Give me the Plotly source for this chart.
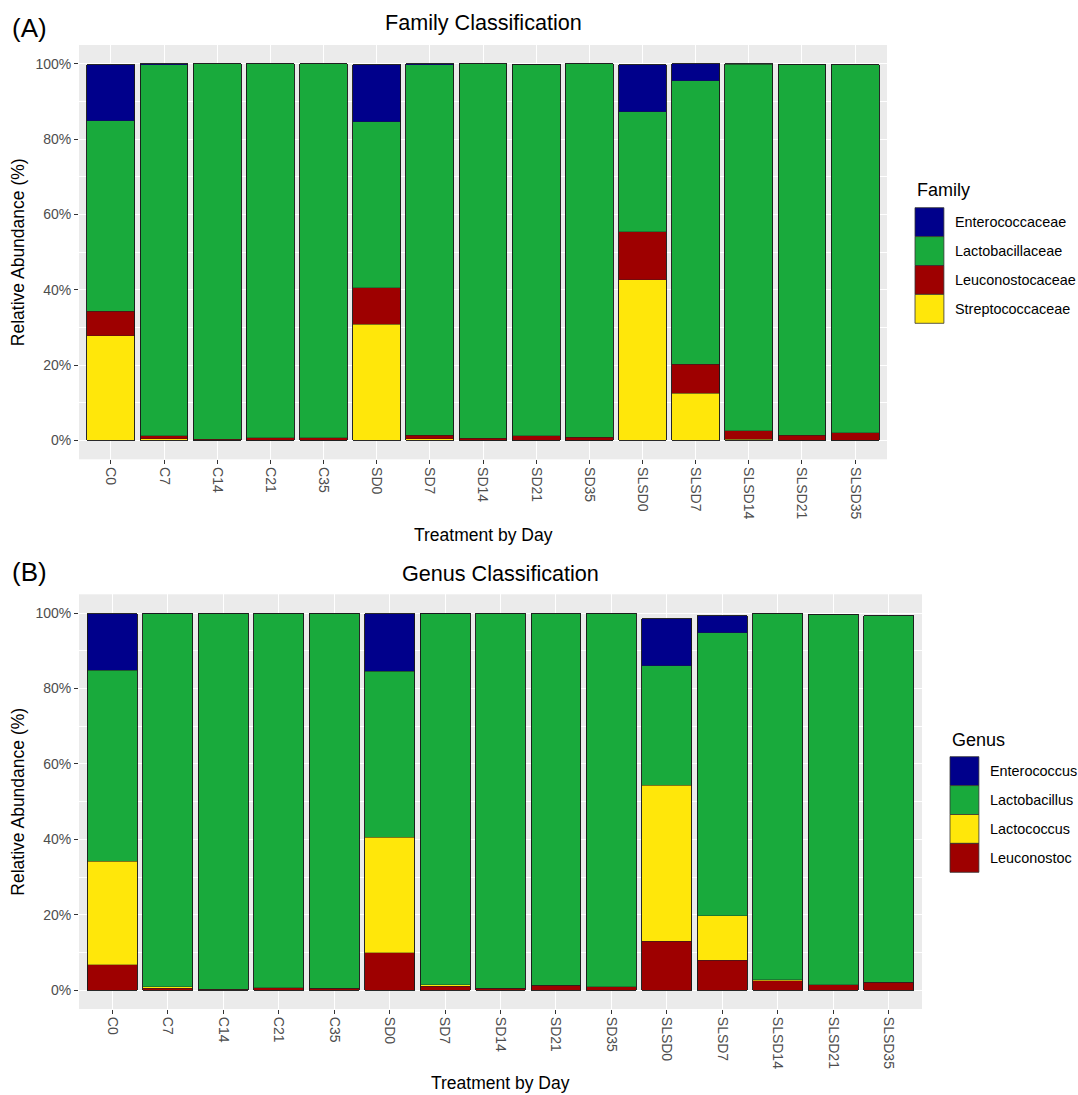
import plotly.graph_objects as go

W, H = 1078, 1095

categories = ["C0", "C7", "C14", "C21", "C35", "SD0", "SD7", "SD14", "SD21", "SD35",
              "SLSD0", "SLSD7", "SLSD14", "SLSD21", "SLSD35"]

# Family classification (%)
fam_strep = [27.8, 0.5, 0.0, 0.1, 0.1, 30.8, 0.5, 0.1, 0.1, 0.1, 42.7, 12.5, 0.3, 0.1, 0.1]
fam_leuc = [6.5, 0.7, 0.3, 0.6, 0.6, 9.8, 0.9, 0.5, 1.1, 0.8, 12.7, 7.8, 2.3, 1.3, 2.0]
fam_lacto = [50.6, 98.5, 99.7, 99.3, 99.3, 44.0, 98.4, 99.4, 98.7, 99.1, 31.9, 75.2, 97.3, 98.5, 97.7]
fam_entero = [14.9, 0.3, 0.0, 0.0, 0.0, 15.2, 0.2, 0.0, 0.0, 0.0, 12.4, 4.5, 0.1, 0.0, 0.0]

# Genus classification (%)
gen_leuco = [6.7, 0.5, 0.2, 0.6, 0.5, 9.9, 1.0, 0.5, 1.3, 0.9, 13.0, 7.9, 2.5, 1.4, 2.1]
gen_lactococ = [27.5, 0.4, 0.0, 0.0, 0.0, 30.7, 0.5, 0.0, 0.0, 0.0, 41.4, 11.9, 0.2, 0.0, 0.0]
gen_lactob = [50.7, 99.0, 99.8, 99.4, 99.5, 44.0, 98.4, 99.5, 98.5, 99.1, 31.6, 75.0, 97.3, 98.3, 97.2]
gen_entero = [14.9, 0.1, 0.0, 0.0, 0.0, 15.2, 0.1, 0.0, 0.0, 0.0, 12.5, 4.5, 0.0, 0.0, 0.0]

family_names = ["Enterococcaceae", "Lactobacillaceae", "Leuconostocaceae", "Streptococcaceae"]
genus_names = ["Enterococcus", "Lactobacillus", "Lactococcus", "Leuconostoc"]

y_tickvals = [0, 20, 40, 60, 80, 100]
y_ticktext = ["0%", "20%", "40%", "60%", "80%", "100%"]

BLUE = "#00008B"
GREEN = "#19AA3C"
RED = "#9E0000"
YELLOW = "#FFE70A"

FONT = "Liberation Sans, Arial, Helvetica, sans-serif"


def px(x):
    return x / W


def py(y):
    return 1 - y / H


fig = go.Figure()

# bottom-to-top stacking order
fam_series = [("Streptococcaceae", fam_strep, YELLOW),
              ("Leuconostocaceae", fam_leuc, RED),
              ("Lactobacillaceae", fam_lacto, GREEN),
              ("Enterococcaceae", fam_entero, BLUE)]
gen_series = [("Leuconostoc", gen_leuco, RED),
              ("Lactococcus", gen_lactococ, YELLOW),
              ("Lactobacillus", gen_lactob, GREEN),
              ("Enterococcus", gen_entero, BLUE)]

SEG_LINE = dict(color="#222222", width=0.35)
OUT_LINE = dict(color="#1a1a1a", width=0.9)

for name, vals, col in fam_series:
    fig.add_trace(go.Bar(x=categories, y=vals, name=name, xaxis="x", yaxis="y",
                         marker=dict(color=col, line=SEG_LINE), showlegend=False))
for name, vals, col in gen_series:
    fig.add_trace(go.Bar(x=categories, y=vals, name=name, xaxis="x2", yaxis="y2",
                         marker=dict(color=col, line=SEG_LINE), showlegend=False))

# bar outlines (total height of each stacked bar)
fam_total = [sum(v) for v in zip(fam_strep, fam_leuc, fam_lacto, fam_entero)]
gen_total = [sum(v) for v in zip(gen_leuco, gen_lactococ, gen_lactob, gen_entero)]
fig.add_trace(go.Bar(x=categories, y=fam_total, xaxis="x", yaxis="y3",
                     marker=dict(color="rgba(0,0,0,0)", line=OUT_LINE),
                     showlegend=False, hoverinfo="skip"))
fig.add_trace(go.Bar(x=categories, y=gen_total, xaxis="x2", yaxis="y4",
                     marker=dict(color="rgba(0,0,0,0)", line=OUT_LINE),
                     showlegend=False, hoverinfo="skip"))

xcommon = dict(type="category", categoryorder="array", categoryarray=categories,
               range=[-0.6, 14.6], tickangle=90, ticks="outside", ticklen=4,
               tickwidth=1.2, tickcolor="#333333",
               tickfont=dict(size=14, color="#4D4D4D", family=FONT),
               showgrid=True, gridcolor="white", gridwidth=1.3, zeroline=False,
               showline=False, automargin=False, fixedrange=True)
ycommon = dict(range=[-5, 105], tickvals=y_tickvals, ticktext=y_ticktext,
               ticks="outside", ticklen=4, tickwidth=1.2, tickcolor="#333333",
               tickfont=dict(size=14, color="#4D4D4D", family=FONT),
               showgrid=True, gridcolor="white", gridwidth=1.3, zeroline=False,
               showline=False, automargin=False, fixedrange=True,
               minor=dict(tickvals=[10, 30, 50, 70, 90], showgrid=True,
                          gridcolor="white", gridwidth=0.6, ticks=""))
yover = dict(range=[-5, 105], visible=False, showgrid=False, zeroline=False,
             fixedrange=True)

A_top, A_bot, A_left, A_right = 45, 459.3, 79, 887
B_top, B_bot, B_left, B_right = 594.3, 1009, 79, 922

fig.update_layout(
    width=W, height=H, template="none",
    margin=dict(l=0, r=0, t=0, b=0),
    paper_bgcolor="white", plot_bgcolor="#EBEBEB",
    font=dict(family=FONT, color="black"),
    barmode="stack", bargap=0.1, showlegend=False,
    xaxis=dict(domain=[px(A_left), px(A_right)], anchor="y", **xcommon),
    yaxis=dict(domain=[py(A_bot), py(A_top)], anchor="x", **ycommon),
    xaxis2=dict(domain=[px(B_left), px(B_right)], anchor="y2", **xcommon),
    yaxis2=dict(domain=[py(B_bot), py(B_top)], anchor="x2", **ycommon),
    yaxis3=dict(overlaying="y", anchor="x", **yover),
    yaxis4=dict(overlaying="y2", anchor="x2", **yover),
)

ann = []
shapes = []


def text(x, y, s, size, xanchor="center", yanchor="middle", angle=0, color="black"):
    ann.append(dict(x=px(x), y=py(y), xref="paper", yref="paper", text=s,
                    showarrow=False, xanchor=xanchor, yanchor=yanchor, textangle=angle,
                    font=dict(size=size, color=color, family=FONT)))


# panel tags and titles
text(10, 28, "(A)", 26, xanchor="left")
text(10, 572, "(B)", 26, xanchor="left")
text((A_left + A_right) / 2, 23, "Family Classification", 21.6)
text((B_left + B_right) / 2, 573, "Genus Classification", 21.6)

# axis titles
text((A_left + A_right) / 2, 535, "Treatment by Day", 17.5)
text((B_left + B_right) / 2, 1083, "Treatment by Day", 17.5)
text(18, (A_top + A_bot) / 2, "Relative Abundance (%)", 17.5, angle=-90)
text(18, (B_top + B_bot) / 2, "Relative Abundance (%)", 17.5, angle=-90)


# legends (drawn as keys + labels)
def legend(title, names, cols, kx, ky, key=28.9, tx_gap=9.5, title_y=None):
    text(kx, title_y, title, 18, xanchor="left")
    for i, (n, c) in enumerate(zip(names, cols)):
        y0 = ky + i * key
        shapes.append(dict(type="rect", xref="paper", yref="paper",
                           x0=px(kx), x1=px(kx + key), y0=py(y0 + key), y1=py(y0),
                           fillcolor=c, line=dict(color="#333333", width=0.8)))
        text(kx + key + tx_gap, y0 + key / 2, n, 14.4, xanchor="left")


legend("Family", family_names, [BLUE, GREEN, RED, YELLOW], 915, 207.7, title_y=190)
legend("Genus", genus_names, [BLUE, GREEN, YELLOW, RED], 950, 756.7, title_y=740)

fig.update_layout(annotations=ann, shapes=shapes)

fig.write_html("out.html")
